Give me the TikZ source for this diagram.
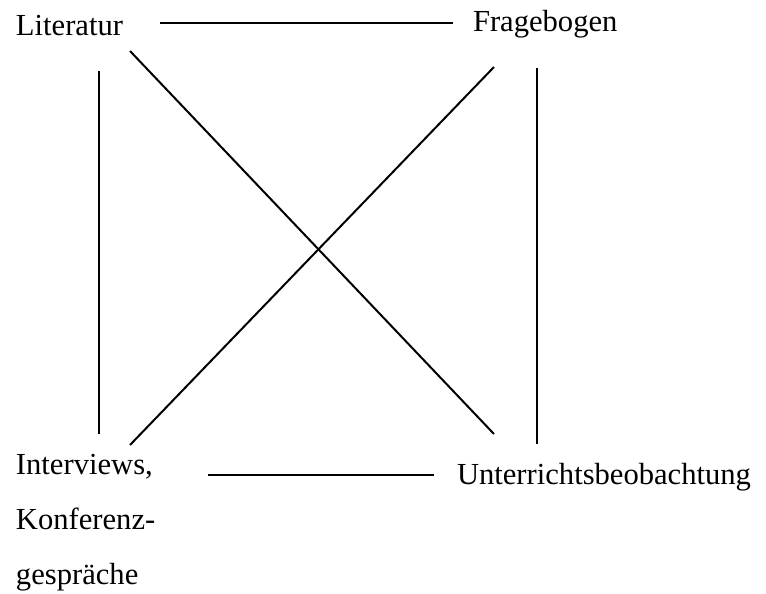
\documentclass[tikz,border=0pt]{standalone}
\usepackage{fontspec}
\setmainfont{Liberation Serif}
\begin{document}
\begin{tikzpicture}[x=0.5pt, y=-0.5pt, line width=1pt,
    every node/.style={inner sep=0pt, anchor=base west, font=\fontsize{15.3}{27.5}\selectfont}]
  \useasboundingbox (0,0) rectangle (766,594);
  % 1. Begriffe
  \node (lit) at (15,35) {Literatur};
  \node (frage) at (472,32) {Fragebogen};
  \node (unt) at (456,484) {Unterrichtsbeobachtung};
  \node[align=left] (int) at (15,584) {Interviews,\\Konferenz-\\gespräche};

  % 2. Enden der Linien
  \coordinate (litO) at (160,23);  \coordinate (frageW) at (453,23);
  \coordinate (litS) at (99,71);   \coordinate (intN) at (99,434);
  \coordinate (litSO) at (130,51); \coordinate (untNW) at (494,434);
  \coordinate (frageSW) at (494,67); \coordinate (intNO) at (130,445);
  \coordinate (frageS) at (537,68); \coordinate (untN) at (537,444);
  \coordinate (intO) at (208,475); \coordinate (untW) at (434,475);

  % 3. Verbindungen
  \draw (litO) -- (frageW);
  \draw (litS) -- (intN);
  \draw (litSO) -- (untNW);
  \draw (frageSW) -- (intNO);
  \draw (frageS) -- (untN);
  \draw (intO) -- (untW);
\end{tikzpicture}
\end{document}
